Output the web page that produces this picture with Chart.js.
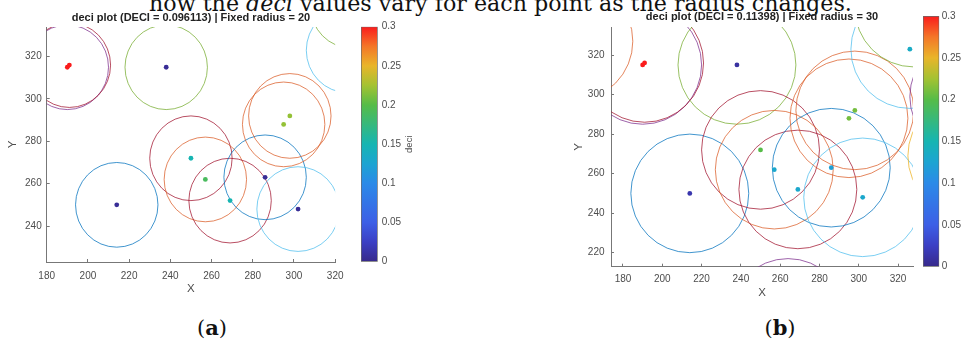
<!DOCTYPE html>
<html>
<head>
<meta charset="utf-8">
<script src="https://cdn.jsdelivr.net/npm/chart.js@4.4.1/dist/chart.umd.min.js"></script>
<style>
  body { margin: 0; background: #fff; width: 965px; height: 350px; overflow: hidden; position: relative; }
  .box { position: absolute; top: 0; height: 300px; }
  .note { position: absolute; left: 149px; top: -9px; font: 22.2px "DejaVu Serif", serif; line-height: 24px; white-space: nowrap; color: #111; }
  .cap { position: absolute; top: 315px; width: 60px; text-align: center; font: 21px "DejaVu Serif", serif; line-height: 26px; color: #111; }
</style>
</head>
<body>
<div class="note">how the <i>deci</i> values vary for each point as the radius changes.</div>
<div class="box" style="left:0;width:355px"><canvas id="plotA" width="355" height="300"></canvas></div>
<div class="box" style="left:350px;width:80px"><canvas id="barA" width="80" height="300"></canvas></div>
<div class="box" style="left:560px;width:370px"><canvas id="plotB" width="370" height="300"></canvas></div>
<div class="box" style="left:915px;width:50px"><canvas id="barB" width="50" height="300"></canvas></div>
<div class="cap" style="left:182px">(<b>a</b>)</div>
<div class="cap" style="left:750px">(<b>b</b>)</div>
<script>
// point positions (same points in both panels)
var ptX = [190, 191, 238, 214, 250, 257, 269, 286, 302, 295, 298, 326, 328, 155, 264, 355, 356];
var ptY = [315, 316, 315, 250, 272, 262, 252, 263, 248, 288, 292, 323, 344, 327, 187, 269, 299];
// colour of the ring round each point
var ringColor = ['purple', 'darkred', 'green', 'blue', 'darkred', 'orange', 'darkred', 'blue', 'lightblue',
  'orange', 'orange', 'lightblue', 'green', 'orange', 'purple', 'yellow', 'purple'];
// deci value of each point (null = point not visible)
var deciA = [0.3, 0.3, 0.005, 0.005, 0.15, 0.19, 0.15, 0.005, 0.005, 0.22, 0.22, null, null, null, null, null, null];
var deciB = [0.3, 0.3, 0.01, 0.015, 0.2, 0.13, 0.13, 0.12, 0.13, 0.21, 0.21, 0.135, null, null, null, null, null];

var titleA = 'deci plot (DECI = 0.096113) | Fixed radius = 20';
var titleB = 'deci plot (DECI = 0.11398) | Fixed radius = 30';
var radiusA = 20, radiusB = 30;

var xLimA = [180, 320], yLimA = [223, 334];
var xLimB = [173.9, 327.6], yLimB = [212.9, 334.2];
var xTicks = [180, 200, 220, 240, 260, 280, 300, 320];
var yTicksA = [240, 260, 280, 300, 320];
var yTicksB = [220, 240, 260, 280, 300, 320];
var cbTicks = [0, 0.05, 0.1, 0.15, 0.2, 0.25, 0.3];
var cbLabels = ['0', '0.05', '0.1', '0.15', '0.2', '0.25', '0.3'];

// colormap of the colour bar
var cmapAt = [0, 0.025, 0.05, 0.1, 0.125, 0.15, 0.2, 0.225, 0.25, 0.275, 0.3];
var cmapCol = ['#37298a', '#3b3fc4', '#3d5fe6', '#2b8ae8', '#1ca4d2', '#16b5b2', '#56bc48', '#a4c232', '#e9b52a', '#f47628', '#fa1c1c'];

var LINES = {
  blue: 'rgba(0,114,189,0.75)', orange: 'rgba(217,83,25,0.7)', yellow: 'rgba(237,177,32,0.75)',
  purple: 'rgba(126,47,142,0.75)', green: 'rgba(119,172,48,0.75)', lightblue: 'rgba(77,190,238,0.75)',
  darkred: 'rgba(162,20,47,0.75)'
};
var GREY = '#4d4d4d';
var FONT = '"Liberation Sans", Arial, sans-serif';

function hexRgb(h) {
  return [parseInt(h.substr(1, 2), 16), parseInt(h.substr(3, 2), 16), parseInt(h.substr(5, 2), 16)];
}
function deciColor(v) {
  for (var i = 1; i < cmapAt.length; i++) {
    if (v <= cmapAt[i] || i === cmapAt.length - 1) {
      var t = Math.max(0, Math.min(1, (v - cmapAt[i - 1]) / (cmapAt[i] - cmapAt[i - 1])));
      var a = hexRgb(cmapCol[i - 1]), b = hexRgb(cmapCol[i]);
      return 'rgb(' + [0, 1, 2].map(function (k) { return Math.round(a[k] + (b[k] - a[k]) * t); }).join(',') + ')';
    }
  }
}

// rings of fixed radius drawn round every point, clipped to the axes
var ringPlugin = {
  id: 'rings',
  beforeDatasetsDraw: function (chart, args, opts) {
    var xs = chart.scales.x, ys = chart.scales.y, a = chart.chartArea, ctx = chart.ctx;
    ctx.save();
    ctx.beginPath();
    ctx.rect(a.left, a.top, a.right - a.left, a.bottom - a.top);
    ctx.clip();
    ctx.lineWidth = 1;
    for (var i = 0; i < ptX.length; i++) {
      var cx = xs.getPixelForValue(ptX[i]);
      var cy = ys.getPixelForValue(ptY[i]);
      var rx = Math.abs(xs.getPixelForValue(ptX[i] + opts.radius) - cx);
      var ry = Math.abs(ys.getPixelForValue(ptY[i] + opts.radius) - cy);
      ctx.strokeStyle = LINES[ringColor[i]];
      ctx.beginPath();
      ctx.ellipse(cx, cy, rx, ry, 0, 0, Math.PI * 2);
      ctx.stroke();
    }
    ctx.restore();
  }
};

function makePlot(id, title, deci, radius, xLim, yLim, yTicks, s) {
  var pts = [], cols = [];
  for (var i = 0; i < ptX.length; i++) {
    if (deci[i] === null) continue;
    pts.push({ x: ptX[i], y: ptY[i] });
    cols.push(deciColor(deci[i]));
  }
  new Chart(document.getElementById(id), {
    type: 'scatter',
    data: { datasets: [{ data: pts, pointBackgroundColor: cols, pointBorderWidth: 0, pointRadius: 2.4, clip: 0 }] },
    plugins: [ringPlugin],
    options: {
      responsive: false,
      animation: false,
      layout: { padding: { left: 0, top: 0, right: s.padRight, bottom: 0 } },
      plugins: {
        legend: { display: false },
        tooltip: { enabled: false },
        rings: { radius: radius },
        title: {
          display: true, text: title, fullSize: false, color: '#222',
          font: { family: FONT, size: 11, weight: 'bold', lineHeight: 1.1 },
          padding: { top: s.titleTop, bottom: 27 - 12.1 - s.titleTop }
        }
      },
      scales: {
        x: {
          type: 'linear', min: xLim[0], max: xLim[1],
          afterBuildTicks: function (sc) { sc.ticks = xTicks.map(function (v) { return { value: v }; }); },
          afterFit: function (sc) { sc.height = s.xHeight; },
          grid: { drawOnChartArea: false, drawTicks: true, tickLength: -3, color: '#777' },
          border: { display: true, color: '#777', width: 1 },
          ticks: { color: GREY, font: { family: FONT, size: 10 }, padding: s.xPad, maxRotation: 0 },
          title: { display: true, text: 'X', color: GREY, font: { family: FONT, size: 11.5 }, padding: { top: 0, bottom: s.xTitle } }
        },
        y: {
          type: 'linear', min: yLim[0], max: yLim[1],
          afterBuildTicks: function (sc) { sc.ticks = yTicks.map(function (v) { return { value: v }; }); },
          afterFit: function (sc) { sc.width = s.yWidth; },
          grid: { drawOnChartArea: false, drawTicks: true, tickLength: -3, color: '#777' },
          border: { display: true, color: '#777', width: 1 },
          ticks: { color: GREY, font: { family: FONT, size: 10 }, padding: s.yPad },
          title: { display: true, text: 'Y', color: GREY, font: { family: FONT, size: 11.5 }, padding: { top: s.yTitle, bottom: 0 } }
        }
      }
    }
  });
}

// rotated colour bar label
var cbLabelPlugin = {
  id: 'cbLabel',
  afterDraw: function (chart, args, opts) {
    if (!opts.text) return;
    var ys = chart.scales.y, ctx = chart.ctx;
    ctx.save();
    ctx.translate(ys.left + opts.offset, (ys.top + ys.bottom) / 2);
    ctx.rotate(-Math.PI / 2);
    ctx.font = '9.5px ' + FONT;
    ctx.fillStyle = GREY;
    ctx.textAlign = 'center';
    ctx.textBaseline = 'middle';
    ctx.fillText(opts.text, 0, 0);
    ctx.restore();
  }
};

function makeBar(id, pad, labelWidth, labelPad, label) {
  new Chart(document.getElementById(id), {
    type: 'bar',
    data: {
      labels: [''],
      datasets: [{
        data: [cbTicks[cbTicks.length - 1]],
        backgroundColor: function (c) {
          var a = c.chart.chartArea;
          if (!a) return '#888';
          var g = c.chart.ctx.createLinearGradient(0, a.bottom, 0, a.top);
          var top = cbTicks[cbTicks.length - 1];
          for (var i = 0; i < cmapAt.length; i++) g.addColorStop(cmapAt[i] / top, cmapCol[i]);
          return g;
        },
        borderColor: '#6a6a6a', borderWidth: 1, borderSkipped: false,
        barPercentage: 1, categoryPercentage: 1
      }]
    },
    plugins: [cbLabelPlugin],
    options: {
      responsive: false,
      animation: false,
      layout: { padding: pad },
      plugins: { legend: { display: false }, tooltip: { enabled: false }, cbLabel: label },
      scales: {
        x: { display: false },
        y: {
          position: 'right', min: cbTicks[0], max: cbTicks[cbTicks.length - 1],
          afterBuildTicks: function (sc) { sc.ticks = cbTicks.map(function (v) { return { value: v }; }); },
          afterFit: function (sc) { sc.width = labelWidth; },
          grid: { display: false, drawTicks: false, tickLength: 0 },
          border: { display: false },
          ticks: {
            color: GREY, font: { family: FONT, size: 10 }, padding: labelPad,
            callback: function (v, i) { return cbLabels[i]; }
          }
        }
      }
    }
  });
}

makePlot('plotA', titleA, deciA, radiusA, xLimA, yLimA, yTicksA,
  { padRight: 11, titleTop: 12, xHeight: 38, xPad: 11.5, xTitle: 4.4, yWidth: 46.7, yPad: 8, yTitle: 6.4 });
makePlot('plotB', titleB, deciB, radiusB, xLimB, yLimB, yTicksB,
  { padRight: 17, titleTop: 11, xHeight: 33.3, xPad: 10, xTitle: 0.4, yWidth: 51, yPad: 9.5, yTitle: 11.7 });
makeBar('barA', { left: 11, top: 26.7, right: 0, bottom: 38.3 }, 52.3, 4, { text: 'deci', offset: 32 });
makeBar('barB', { left: 8, top: 16, right: 0, bottom: 33.3 }, 25.7, 2.4, { text: '' });
</script>
</body>
</html>
